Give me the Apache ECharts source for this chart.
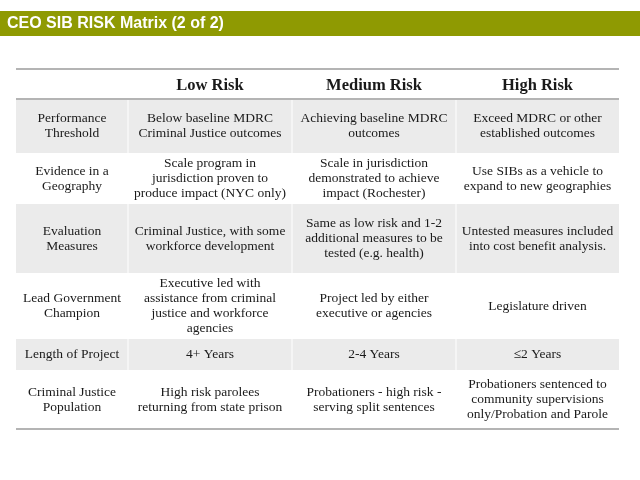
<!DOCTYPE html>
<html>
<head>
<meta charset="utf-8">
<script src="https://cdn.jsdelivr.net/npm/echarts@6/dist/echarts.min.js"></script>
<style>
  html, body { margin: 0; padding: 0; background: #fff; }
  #main { width: 640px; height: 480px; }
</style>
</head>
<body>
<div id="main"></div>
<script>
// table content
var columns = ['Low Risk', 'Medium Risk', 'High Risk'];
var criteria = [
  'Performance\nThreshold',
  'Evidence in a\nGeography',
  'Evaluation\nMeasures',
  'Lead Government\nChampion',
  'Length of Project',
  'Criminal Justice\nPopulation'
];
var lowRisk = [
  'Below baseline MDRC\nCriminal Justice outcomes',
  'Scale program in\njurisdiction proven to\nproduce impact (NYC only)',
  'Criminal Justice, with some\nworkforce development',
  'Executive led with\nassistance from criminal\njustice and workforce\nagencies',
  '4+ Years',
  'High risk parolees\nreturning from state prison'
];
var mediumRisk = [
  'Achieving baseline MDRC\noutcomes',
  'Scale in jurisdiction\ndemonstrated to achieve\nimpact (Rochester)',
  'Same as low risk and 1-2\nadditional measures to be\ntested (e.g. health)',
  'Project led by either\nexecutive or agencies',
  '2-4 Years',
  'Probationers - high risk -\nserving split sentences'
];
var highRisk = [
  'Exceed MDRC or other\nestablished outcomes',
  'Use SIBs as a vehicle to\nexpand to new geographies',
  'Untested measures included\ninto cost benefit analysis.',
  'Legislature driven',
  '≤2 Years',
  'Probationers sentenced to\ncommunity supervisions\nonly/Probation and Parole'
];

// layout: cell edges in axis units (pixels inside the grid)
var colEdges = [0, 112, 276, 440, 603];
var rowEdges = [0, 30, 84, 135, 204, 270, 301, 360];

var chart = echarts.init(document.getElementById('main'));

// cells: [col, row, text]; row 0 is the header
var cells = [];
columns.forEach(function (c, i) { cells.push([i + 1, 0, c]); });
criteria.forEach(function (c, r) {
  cells.push([0, r + 1, c]);
  cells.push([1, r + 1, lowRisk[r]]);
  cells.push([2, r + 1, mediumRisk[r]]);
  cells.push([3, r + 1, highRisk[r]]);
});

function cellBox(api, col, row) {
  var p0 = api.coord([colEdges[col], rowEdges[row]]);
  var p1 = api.coord([colEdges[col + 1], rowEdges[row + 1]]);
  return { x0: p0[0], y0: p0[1], x1: p1[0], y1: p1[1] };
}

var option = {
  animation: false,
  backgroundColor: '#ffffff',
  title: {
    text: 'CEO SIB RISK Matrix (2 of 2)',
    left: 7,
    top: 15,
    padding: 0,
    textStyle: {
      color: '#ffffff',
      fontFamily: 'Liberation Sans',
      fontWeight: 'bold',
      fontSize: 16,
      lineHeight: 17
    }
  },
  graphic: [{
    type: 'rect',
    left: 0,
    top: 11,
    z: -1,
    shape: { width: 640, height: 25 },
    style: { fill: '#8f9a02' }
  }],
  grid: { left: 16, right: 21, top: 69, bottom: 51 },
  xAxis: { type: 'value', min: 0, max: 603, show: false },
  yAxis: { type: 'value', min: 0, max: 360, inverse: true, show: false },
  series: [
    {
      // row shading
      type: 'custom',
      z: 1,
      data: criteria.map(function (c, r) { return [0, r + 1]; }),
      renderItem: function (params, api) {
        var row = api.value(1);
        if (row % 2 === 0) return null;
        var a = cellBox(api, 0, row);
        var b = cellBox(api, 3, row);
        var children = [{
          type: 'rect',
          shape: { x: a.x0, y: a.y0, width: b.x1 - a.x0, height: a.y1 - a.y0 },
          style: { fill: '#ebebeb' }
        }];
        for (var k = 1; k < 4; k++) {
          var x = api.coord([colEdges[k], 0])[0];
          children.push({
            type: 'line',
            shape: { x1: x, y1: a.y0, x2: x, y2: a.y1 },
            style: { stroke: '#ffffff', lineWidth: 1 }
          });
        }
        return { type: 'group', children: children };
      }
    },
    {
      // horizontal rules: top, under header, bottom
      type: 'custom',
      z: 2,
      data: [[0, 0], [0, 1], [0, 7]],
      renderItem: function (params, api) {
        var y = rowEdges[api.value(1)];
        var p0 = api.coord([colEdges[0], y]);
        var p1 = api.coord([colEdges[4], y]);
        return {
          type: 'line',
          shape: { x1: p0[0], y1: p0[1], x2: p1[0], y2: p1[1] },
          style: { stroke: '#b4b4b4', lineWidth: 2 }
        };
      }
    },
    {
      // cell text
      type: 'custom',
      z: 3,
      data: cells,
      renderItem: function (params, api) {
        var item = cells[params.dataIndex];
        var box = cellBox(api, item[0], item[1]);
        var header = item[1] === 0;
        return {
          type: 'text',
          style: {
            text: item[2],
            x: (box.x0 + box.x1) / 2,
            y: (box.y0 + box.y1) / 2 + (header ? 2 : 0),
            align: 'center',
            verticalAlign: 'middle',
            fontFamily: 'Liberation Serif',
            fontSize: header ? 16.5 : 13.5,
            fontWeight: header ? 'bold' : 'normal',
            lineHeight: 15,
            fill: '#1a1a1a'
          }
        };
      }
    }
  ]
};

chart.setOption(option);
</script>
</body>
</html>
